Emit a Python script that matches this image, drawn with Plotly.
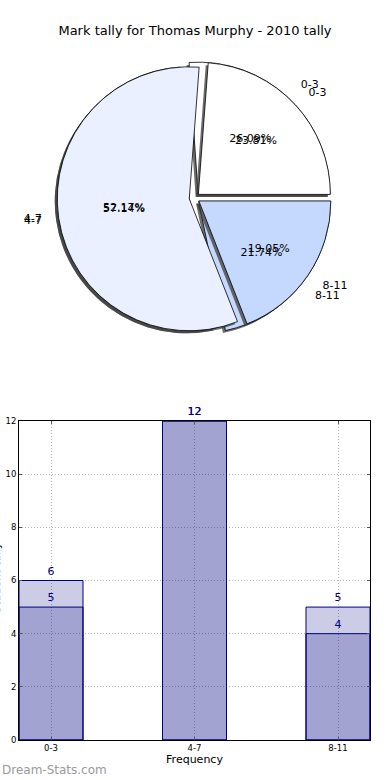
import plotly.graph_objects as go

title = "Mark tally for Thomas Murphy - 2010 tally"
categories = ["0-3", "4-7", "8-11"]
tally_a = [6, 12, 5]
tally_b = [5, 12, 4]
slice_colors = ["#FFFFFF", "#EAF0FF", "#C5D9FF"]
y_ticks = [0, 2, 4, 6, 8, 10, 12]

FONT = "DejaVu Sans"
W, H = 390, 780
ML, MR, MT, MB = 19, 20, 0, 40
PW, PH = W - ML - MR, H - MT - MB

def px_x(x):
    return (x - ML) / PW

def px_y(y):
    return (H - MB - y) / PH

def pie_domain(cx, cy, radius, pull_max):
    b = radius * (1 + pull_max)
    return dict(x=[px_x(cx - b), px_x(cx + b)], y=[px_y(cy + b), px_y(cy - b)])

# pie drawn clockwise from 3 o'clock in reversed order == counterclockwise from 3 o'clock
pie_labels = categories[::-1]
pie_colors = slice_colors[::-1]
pull = [0.04, 0.04, 0.04]
cx, cy, r = 194.5, 198, 132
dom = pie_domain(cx, cy, r, max(pull))
dom_shadow = pie_domain(cx - 2.5, cy + 2.5, r, max(pull))
dom_labels = pie_domain(cx, cy, r * 1.1, max(pull))

fig = go.Figure()

common = dict(labels=pie_labels, sort=False, direction="clockwise",
              rotation=90, pull=pull, showlegend=False, hoverinfo="skip")
clear = dict(colors=["rgba(0,0,0,0)"] * 3, line=dict(width=0))
tfont = dict(family=FONT, size=11, color="black")

for vals in (tally_a, tally_b):
    v = vals[::-1]
    fig.add_trace(go.Pie(values=v, domain=dom_shadow,
                         marker=dict(colors=["rgba(60,60,60,0.75)"] * 3,
                                     line=dict(width=0)),
                         textinfo="none", **common))
    fig.add_trace(go.Pie(values=v, domain=dom,
                         marker=dict(colors=pie_colors,
                                     line=dict(color="black", width=0.8)),
                         textinfo="none", **common))

for vals in (tally_a, tally_b):
    v = vals[::-1]
    fig.add_trace(go.Pie(values=v, domain=dom, marker=clear,
                         texttemplate="%{percent:.2%}", textposition="inside",
                         insidetextorientation="horizontal", textfont=tfont,
                         **common))
    fig.add_trace(go.Pie(values=v, domain=dom_labels, marker=clear,
                         texttemplate="%{label}", textposition="outside",
                         textfont=tfont, **common))

bar_common = dict(x=categories, width=0.446, textposition="outside",
                  cliponaxis=False,
                  marker=dict(color="rgba(0,0,128,0.2)",
                              line=dict(color="#000080", width=1)),
                  textfont=dict(family=FONT, size=11, color="#000080"),
                  showlegend=False, hoverinfo="skip")
fig.add_trace(go.Bar(y=tally_a, text=[str(v) for v in tally_a], **bar_common))
fig.add_trace(go.Bar(y=tally_b, text=[str(v) for v in tally_b], **bar_common))

axis_common = dict(showline=True, linecolor="black", linewidth=1, mirror="ticks",
                   ticks="inside", ticklen=3, tickcolor="#555",
                   showgrid=True, gridcolor="#b4b4b4", griddash="1px,2px", gridwidth=1,
                   tickfont=dict(family=FONT, size=8.5, color="black"),
                   automargin=False, fixedrange=True)

fig.update_layout(
    width=W, height=H,
    margin=dict(l=ML, r=MR, t=MT, b=MB),
    paper_bgcolor="white", plot_bgcolor="white",
    barmode="overlay",
    font=dict(family=FONT, color="black"),
    title=dict(text=title, x=0.5, xanchor="center", y=1 - 30 / H,
               yanchor="middle", yref="container",
               font=dict(family=FONT, size=13, color="black")),
    xaxis=dict(range=[-0.223, 2.223], domain=[0, 1],
               title=dict(text="Frequency", standoff=2,
                          font=dict(family=FONT, size=11, color="black")),
               **axis_common),
    yaxis=dict(range=[0, 12], domain=[0, px_y(421)], tickvals=y_ticks,
               zeroline=False, **axis_common),
    annotations=[
        dict(text="Dream-Stats.com", xref="paper", yref="paper",
             x=px_x(0), y=px_y(770), xanchor="left", yanchor="middle",
             showarrow=False, font=dict(family=FONT, size=12, color="#9a9a9a")),
        dict(text="Student tally", xref="paper", yref="paper",
             x=px_x(-4), y=px_y(578), xanchor="center", yanchor="middle",
             textangle=-90, showarrow=False,
             font=dict(family=FONT, size=11, color="black")),
    ],
)

fig.write_html("out.html", config={"displayModeBar": False},
               post_script="document.body.style.margin='0';document.body.style.overflow='hidden';")
